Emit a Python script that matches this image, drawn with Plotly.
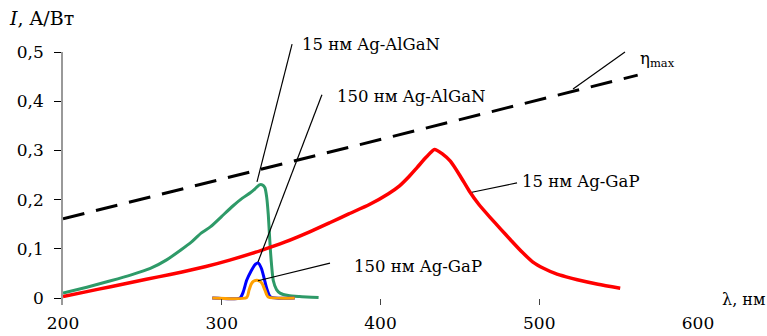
import plotly.graph_objects as go

# ---- data ----
eta_x = [200, 562]
eta_y = [0.161, 0.453]

red_x = [200, 215, 230, 245, 260, 275, 290, 305, 325, 340, 355, 368, 380, 393, 405, 412, 418, 423, 429, 434,
         439, 444, 450, 456, 462, 469, 476, 482, 489, 496, 503, 510, 517, 524, 537, 551]
red_y = [0.003, 0.013, 0.023, 0.033, 0.043, 0.053, 0.064, 0.077, 0.097, 0.114, 0.134, 0.153, 0.171, 0.19,
         0.212, 0.228, 0.247, 0.265, 0.287, 0.302, 0.293, 0.278, 0.249, 0.217, 0.19, 0.164, 0.139, 0.118,
         0.094, 0.073, 0.06, 0.05, 0.043, 0.037, 0.028, 0.02]

green_x = [200, 215, 230, 243, 255, 265, 274, 281, 287, 293, 300, 307, 313, 318, 321, 323.7, 325.5, 327.2,
           328.3, 329.3, 330.8, 332.5, 334.5, 336.7, 342, 349, 361]
green_y = [0.01, 0.022, 0.035, 0.047, 0.06, 0.077, 0.097, 0.114, 0.132, 0.145, 0.166, 0.187, 0.203, 0.214,
           0.222, 0.23, 0.23, 0.224, 0.205, 0.17, 0.09, 0.035, 0.017, 0.01, 0.005, 0.003, 0.001]

blue_x = [294, 311.5, 313.5, 315.7, 318.5, 321, 323, 325, 326.7, 328.3, 330.8, 346]
blue_y = [0.0, 0.0, 0.012, 0.036, 0.055, 0.068, 0.071, 0.06, 0.04, 0.02, 0.002, 0.0]

orange_x = [294, 315.7, 317.2, 318.5, 320, 322, 324, 325.5, 327.2, 329.3, 346]
orange_y = [0.0, 0.001, 0.016, 0.028, 0.034, 0.036, 0.034, 0.029, 0.016, 0.002, 0.0]

x_ticks = [200, 300, 400, 500, 600]
y_ticks = [0, 0.1, 0.2, 0.3, 0.4, 0.5]
y_ticktext = ["0", "0,1", "0,2", "0,3", "0,4", "0,5"]

X_RANGE = [200, 600]
Y_RANGE = [-0.0142, 0.5]

FONT = "DejaVu Serif"


def px(xv):
    return (xv - X_RANGE[0]) / (X_RANGE[1] - X_RANGE[0])


def py(yv):
    return (yv - Y_RANGE[0]) / (Y_RANGE[1] - Y_RANGE[0])


fig = go.Figure()
fig.add_trace(go.Scatter(x=eta_x, y=eta_y, mode="lines",
                         line=dict(color="black", width=3, dash="22px,12px")))
fig.add_trace(go.Scatter(x=green_x, y=green_y, mode="lines",
                         line=dict(color="#2e9a68", width=3, shape="spline", smoothing=0.6)))
fig.add_trace(go.Scatter(x=red_x, y=red_y, mode="lines",
                         line=dict(color="#ff0000", width=3.5, shape="spline", smoothing=0.6)))
fig.add_trace(go.Scatter(x=blue_x, y=blue_y, mode="lines",
                         line=dict(color="#0000ff", width=3, shape="spline", smoothing=0.6)))
fig.add_trace(go.Scatter(x=orange_x, y=orange_y, mode="lines",
                         line=dict(color="#ffa000", width=3, shape="spline", smoothing=0.6)))

leaders = [
    (322.2, 0.236, 344.3, 0.516),
    (322.8, 0.073, 363.1, 0.413),
    (322.8, 0.035, 368.2, 0.071),
    (457.6, 0.215, 486.0, 0.234),
    (521.3, 0.425, 554.0, 0.500),
]
for hx, hy, tx, ty in leaders:
    fig.add_shape(type="line", xref="paper", yref="paper",
                  x0=px(hx), y0=py(hy), x1=px(tx), y1=py(ty),
                  line=dict(color="black", width=1.2))

labels = [
    (349.3, 0.516, "15 нм Ag-AlGaN"),
    (371.3, 0.410, "150 нм Ag-AlGaN"),
    (382.0, 0.065, "150 нм Ag-GaP"),
    (487.9, 0.236, "15 нм Ag-GaP"),
    (562.2, 0.484, "η<sub>max</sub>"),
]
for lx, ly, t in labels:
    fig.add_annotation(x=px(lx), y=py(ly), xref="paper", yref="paper", text=t, showarrow=False,
                       xanchor="left", yanchor="middle", font=dict(family=FONT, size=16.5, color="black"))

fig.add_annotation(x=-0.088, y=1.134, xref="paper", yref="paper", text="<i>I</i>, A/Вт",
                   showarrow=False, xanchor="left", yanchor="middle",
                   font=dict(family=FONT, size=19, color="black"))
fig.add_annotation(x=1.035, y=0.02, xref="paper", yref="paper", text="λ, нм",
                   showarrow=False, xanchor="left", yanchor="middle",
                   font=dict(family=FONT, size=16, color="black"))

fig.update_layout(
    width=767, height=336,
    margin=dict(l=63, r=69, t=52, b=31, autoexpand=False),
    paper_bgcolor="white", plot_bgcolor="white",
    showlegend=False,
    font=dict(family=FONT, size=17, color="black"),
)
fig.update_xaxes(range=X_RANGE, tickvals=x_ticks, ticks="inside", ticklen=6, tickcolor="#444",
                 ticklabelstandoff=6, automargin=False,
                 showline=False, showgrid=False, zeroline=False, tickfont=dict(family=FONT, size=17))
fig.update_yaxes(range=Y_RANGE, tickvals=y_ticks, ticktext=y_ticktext, ticks="outside",
                 ticklen=7, tickcolor="black", showline=True, linecolor="#999", linewidth=1.5,
                 ticklabelstandoff=7, automargin=False,
                 showgrid=False, zeroline=False, tickfont=dict(family=FONT, size=17))

fig.write_html("out.html")
